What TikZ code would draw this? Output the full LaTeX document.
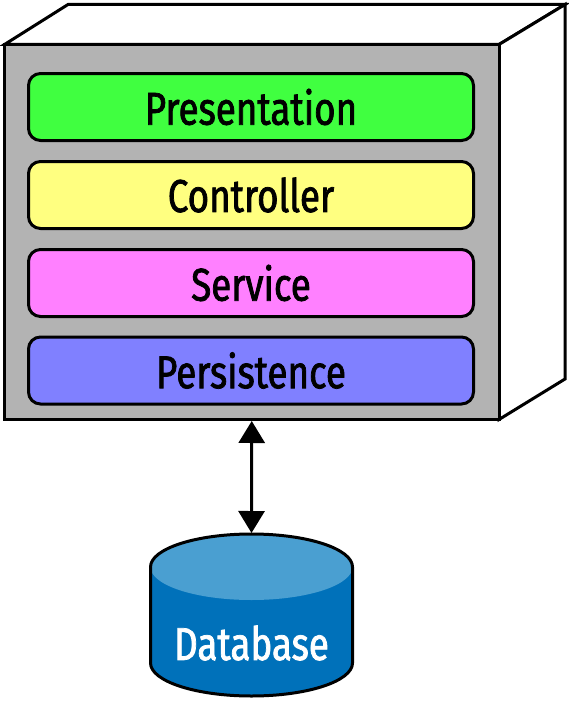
\documentclass[tikz,border=0pt]{standalone}
\usepackage{fontspec}
\setmainfont{Fira Sans}[FakeStretch=0.8, FakeBold=1.6]
\usetikzlibrary{arrows.meta}
\definecolor{boxgray}{HTML}{B3B3B3}
\definecolor{presgreen}{HTML}{40FF40}
\definecolor{ctrlyellow}{HTML}{FFFF80}
\definecolor{servpink}{HTML}{FF80FF}
\definecolor{persblue}{HTML}{8080FF}
\definecolor{dbtop}{HTML}{4A9FD1}
\definecolor{dbbody}{HTML}{0071BA}
\begin{document}
\begin{tikzpicture}[x=1pt,y=-1pt,line width=3pt,
    >={Triangle[width=26pt,length=22pt]},
    layer/.style={draw, rounded corners=12pt, minimum width=445pt, minimum height=67pt,
      inner sep=0pt, font=\fontsize{46}{50}\selectfont}]
\useasboundingbox (0,0) rectangle (569,701);

% the box, seen from the front
\filldraw[fill=white] (4.5,44.5) -- (68,4.5) -- (565,4.5) -- (499,44.5) -- cycle;
\filldraw[fill=white] (499,44.5) -- (565,4.5) -- (565,379) -- (499,419.5) -- cycle;
\node[draw, fill=boxgray, minimum width=494.5pt, minimum height=375pt, inner sep=0pt]
  (front) at (251.75,232) {};

\node[layer, fill=presgreen] (pres) at (251,107) {Presentation};
\node[layer, fill=ctrlyellow] (ctrl) at (251,195) {Controller};
\node[layer, fill=servpink] (serv) at (251,283) {Service};
\node[layer, fill=persblue] (pers) at (251,370.5) {Persistence};

% database
\fill[dbbody] (150.5,567) -- (150.5,663)
  arc[start angle=180, end angle=360, x radius=101pt, y radius=33pt] -- (352.5,567) -- cycle;
\fill[dbtop] (251.5,567) ellipse[x radius=101pt, y radius=33pt];
\draw (150.5,567) -- (150.5,663)
  arc[start angle=180, end angle=360, x radius=101pt, y radius=33pt] -- (352.5,567)
  arc[start angle=0, end angle=180, x radius=101pt, y radius=33pt];
\node[text=white, font=\fontsize{46}{50}\selectfont] (db) at (251.5,643) {Database};
\coordinate (dbin) at (251.5,533);

\draw[<->] (front.south) -- (dbin);
\end{tikzpicture}
\end{document}
